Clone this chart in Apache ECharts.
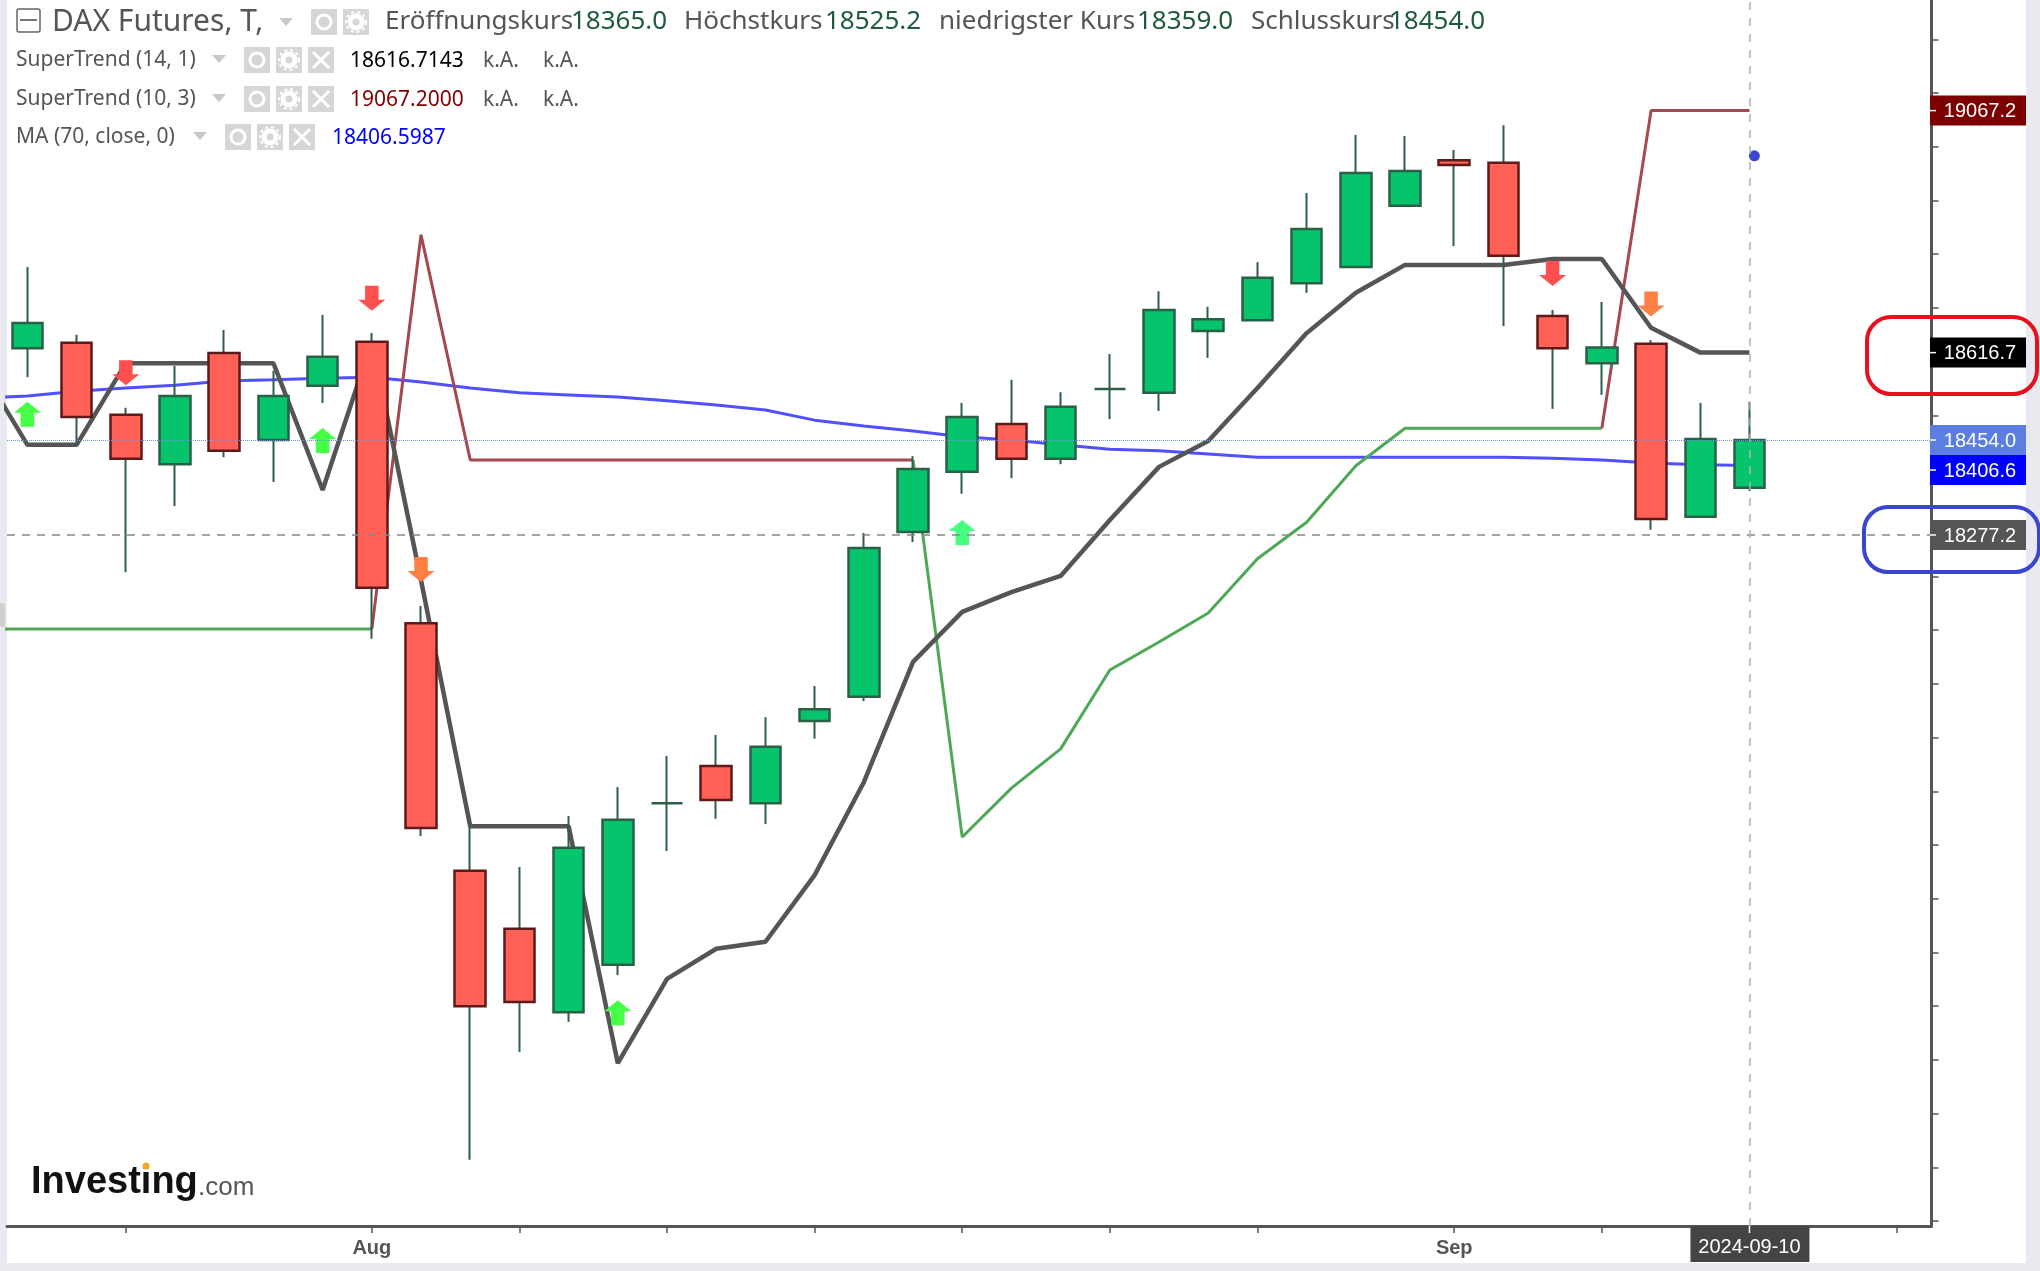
<!DOCTYPE html>
<html>
<head>
<meta charset="utf-8">
<style>html,body{margin:0;padding:0;background:#e9e9f0}#chart{width:2040px;height:1271px}</style>
<script src="https://cdn.jsdelivr.net/npm/echarts@6/dist/echarts.min.js"></script>
</head>
<body>
<div id="chart"></div>
<script>
// trading days, Jul 23 - Sep 10 2024
var dates = ['2024-07-23','2024-07-24','2024-07-25','2024-07-26','2024-07-29','2024-07-30','2024-07-31',
  '2024-08-01','2024-08-02','2024-08-05','2024-08-06','2024-08-07','2024-08-08','2024-08-09',
  '2024-08-12','2024-08-13','2024-08-14','2024-08-15','2024-08-16','2024-08-19','2024-08-20',
  '2024-08-21','2024-08-22','2024-08-23','2024-08-26','2024-08-27','2024-08-28','2024-08-29',
  '2024-08-30','2024-09-02','2024-09-03','2024-09-04','2024-09-05','2024-09-06','2024-09-09','2024-09-10'];
var open  = [18625,18635,18501,18409,18616,18454,18555,18637,18113,17652,17544,17389,17477,17778,17847,17778,17931,17976,18283,18395,18484,18419,18549,18542,18657,18677,18746,18776,18890,18975,18970,18685,18597,18633,18311,18365];
var close = [18672,18497,18419,18536,18434,18536,18609,18179,17732,17400,17408,17695,17747,17778,17784,17883,17953,18253,18400,18497,18419,18516,18549,18696,18679,18756,18847,18951,18955,18966,18797,18625,18626,18307,18456,18454];
var low   = [18571,18445,18208,18331,18422,18376,18523,18084,17717,17114,17315,17371,17458,17689,17749,17739,17898,17968,18264,18354,18383,18409,18493,18508,18607,18677,18728,18776,18890,18815,18666,18512,18538,18287,18311,18359];
var high  = [18776,18650,18514,18592,18659,18583,18687,18653,18145,17735,17659,17754,17808,17866,17905,17938,17996,18281,18424,18523,18566,18543,18614,18731,18702,18785,18914,19022,19020,18994,19040,18696,18711,18640,18523,18525.2];

// indicator arrays start one bar before the first candle (index -1)
var superTrend141 = [18597,18445,18445,18597,18597,18597,18597,18361,18637,18193,17735,17735,17735,17294,17451,17507,17520,17644,17817,18041,18134,18171,18201,18305,18404,18452,18551,18653,18728,18780,18780,18780,18791,18791,18663,18616.7,18616.7];
var superTrend103Up = [18102,18102,18102,18102,18102,18102,18102,18102,18102,null,null,null,null,null,null,null,null,null,null,18417,17715,17806,17879,18026,18078,18132,18233,18301,18406,18476,18476,18476,18476,18476,null,null,null];
var superTrend103Down = [null,null,null,null,null,null,null,null,18102,18836,18417,18417,18417,18417,18417,18417,18417,18417,18417,18417,null,null,null,null,null,null,null,null,null,null,null,null,null,18476,19067.2,19067.2,19067.2];
var ma70 = [18532,18536,18545,18551,18556,18564,18566,18569,18571,18562,18551,18542,18538,18534,18527,18519,18510,18491,18480,18471,18460,18454,18445,18437,18434,18428,18422,18422,18422,18422,18422,18422,18420,18417,18411,18408,18406.6];

var greenArrows = [[0,18502],[6,18453],[12,17388]];
var mintArrows = [[19,18282]];
var redArrows = [[2,18579],[7,18718],[31,18764]];
var orangeArrows = [[8,18213],[33,18707]];
var forecastDot = [[35.1,18983]];

var priceTags = [19067.2,18616.7,18454.0,18406.6,18277.2];
var priceTagColors = ['#7d0000','#000000','#5a7fe0','#0000ff','#555555'];
var lastClose = 18454.0;
var lastLevel = 18277.2;
var lastBar = 35;

var xTickValues = [2,7,10,13,16,19,22,25,29,32,35,38];
var xLabelValues = [7,29];
var xLabelNames = {7:'Aug',29:'Sep'};
var yTickValues = [];
for (var t = 17000; t <= 19200; t += 100) yTickValues.push(t);

function shift(arr) {
  return arr.map(function (v, k) { return [k - 1, v]; });
}
var candleFull = dates.map(function (d, i) { return [i, open[i], close[i], low[i], high[i]]; });
var candleBody = dates.map(function (d, i) {
  return [i, open[i], close[i], Math.min(open[i], close[i]), Math.max(open[i], close[i])];
});

var ICON = '#d6d6d6';
var GREY = '#555555';
var DARKGREEN = '#1f5a3c';
var gfx = [];

function txt(s, x, y, font, color, z) {
  gfx.push({type:'text', z:z || 50, silent:true, style:{text:s, x:x, y:y, font:font, fill:color, textVerticalAlign:'middle'}});
}
function caret(x, y) {
  gfx.push({type:'polygon', z:50, silent:true, shape:{points:[[x-7,y-4],[x+7,y-4],[x,y+4]]}, style:{fill:'#c8c8c8'}});
}
function iconBox(x, y, w, h, kind) {
  gfx.push({type:'rect', z:50, silent:true, shape:{x:x,y:y,width:w,height:h}, style:{fill:ICON}});
  var cx = x + w / 2, cy = y + h / 2;
  if (kind === 'x') {
    gfx.push({type:'line', z:51, silent:true, shape:{x1:x+5,y1:y+5,x2:x+w-5,y2:y+h-5}, style:{stroke:'#fff',lineWidth:3}});
    gfx.push({type:'line', z:51, silent:true, shape:{x1:x+w-5,y1:y+5,x2:x+5,y2:y+h-5}, style:{stroke:'#fff',lineWidth:3}});
  } else if (kind === 'eye') {
    gfx.push({type:'circle', z:51, silent:true, shape:{cx:cx,cy:cy,r:7}, style:{fill:'none',stroke:'#fff',lineWidth:3}});
  } else {
    gfx.push({type:'circle', z:51, silent:true, shape:{cx:cx,cy:cy,r:6}, style:{fill:'none',stroke:'#fff',lineWidth:5}});
    gfx.push({type:'circle', z:51, silent:true, shape:{cx:cx,cy:cy,r:10}, style:{fill:'none',stroke:'#fff',lineWidth:2,lineDash:[3,3]}});
  }
}

// frame
gfx.push({type:'rect', z:-1, silent:true, shape:{x:7,y:0,width:2019,height:1263}, style:{fill:'#fff'}});
gfx.push({type:'rect', z:-1, silent:true, shape:{x:0,y:603,width:5,height:24,r:2}, style:{fill:'#cfcfcf'}});

// header row
var HEAD = '26px "Noto Sans"';
gfx.push({type:'rect', z:50, silent:true, shape:{x:17,y:9,width:23,height:23,r:2}, style:{fill:'#fff',stroke:'#666',lineWidth:1.5}});
gfx.push({type:'line', z:50, silent:true, shape:{x1:20,y1:20,x2:37,y2:20}, style:{stroke:'#777',lineWidth:2}});
txt('DAX Futures, T,', 52, 22, '30px "Noto Sans"', GREY);
caret(286, 22);
iconBox(311, 9, 26, 26, 'eye');
iconBox(343, 9, 26, 26, 'gear');
txt('Eröffnungskurs', 385, 22, HEAD, GREY);
txt('18365.0', 571, 22, HEAD, DARKGREEN);
txt('Höchstkurs', 684, 22, HEAD, GREY);
txt('18525.2', 825, 22, HEAD, DARKGREEN);
txt('niedrigster Kurs', 939, 22, HEAD, GREY);
txt('18359.0', 1137, 22, HEAD, DARKGREEN);
txt('Schlusskurs', 1251, 22, HEAD, GREY);
txt('18454.0', 1389, 22, HEAD, DARKGREEN);

// indicator rows
var ROW = '21px "Noto Sans"';
txt('SuperTrend (14, 1)', 16, 60, ROW, GREY);
caret(219, 59);
iconBox(244, 47, 26, 26, 'eye'); iconBox(276, 47, 26, 26, 'gear'); iconBox(308, 47, 26, 26, 'x');
txt('18616.7143', 350, 61, ROW, '#000');
txt('k.A.', 483, 61, ROW, GREY);
txt('k.A.', 543, 61, ROW, GREY);

txt('SuperTrend (10, 3)', 16, 99, ROW, GREY);
caret(219, 98);
iconBox(244, 86, 26, 26, 'eye'); iconBox(276, 86, 26, 26, 'gear'); iconBox(308, 86, 26, 26, 'x');
txt('19067.2000', 350, 100, ROW, '#800000');
txt('k.A.', 483, 100, ROW, GREY);
txt('k.A.', 543, 100, ROW, GREY);

txt('MA (70, close, 0)', 16, 137, ROW, GREY);
caret(200, 136);
iconBox(225, 124, 26, 26, 'eye'); iconBox(257, 124, 26, 26, 'gear'); iconBox(289, 124, 26, 26, 'x');
txt('18406.5987', 332, 138, ROW, '#0000ff');

// logo
txt('Investing', 31, 1183, 'bold 38px "Liberation Sans"', '#111');
txt('.com', 198, 1188, '26px "Liberation Sans"', '#555');
gfx.push({type:'circle', z:51, silent:true, shape:{cx:146,cy:1166,r:3.5}, style:{fill:'#f7a51e'}});

// hand drawn annotation boxes
gfx.push({type:'rect', z:60, silent:true, shape:{x:1867,y:317,width:170,height:77,r:24}, style:{fill:'none',stroke:'#e8101c',lineWidth:4}});
gfx.push({type:'rect', z:60, silent:true, shape:{x:1864,y:507,width:175,height:65,r:24}, style:{fill:'none',stroke:'#3a45d0',lineWidth:4}});

var UP_ARROW = 'path://M10 0 L20 11 L15 11 L15 25 L5 25 L5 11 L0 11 Z';
var DOWN_ARROW = 'path://M5 0 L15 0 L15 14 L20 14 L10 25 L0 14 L5 14 Z';

function arrowSeries(name, data, path, color) {
  return {name:name, type:'scatter', z:2, silent:true, data:data, symbol:path, symbolSize:[27,25], itemStyle:{color:color, opacity:1}};
}
function lineSeries(name, data, color, width, extra) {
  var s = {name:name, type:'line', z:1, silent:true, data:shift(data), symbol:'none', connectNulls:false, lineStyle:{color:color, width:width}};
  if (extra) s.markLine = extra;
  return s;
}

var tagBottom = -Infinity;
var option = {
  animation: false,
  backgroundColor: '#e9e9f0',
  graphic: {elements: gfx},
  grid: {left:7, top:0, width:1924.5, height:1226, containLabel:false},
  xAxis: {
    type:'value', min:-0.415, max:38.70, splitLine:{show:false},
    axisLine:{onZero:false, lineStyle:{color:GREY, width:3}},
    axisTick:{length:7, inside:false, customValues:xTickValues, lineStyle:{color:GREY, width:1.5}},
    axisLabel:{customValues:xLabelValues, margin:12, color:GREY, fontSize:20, fontWeight:'bold', fontFamily:'"Liberation Sans"',
      formatter:function (v) { return xLabelNames[v] || ''; }}
  },
  yAxis: {
    type:'value', position:'right', min:16990.9, max:19273.1, scale:true, splitLine:{show:false},
    axisLine:{show:true, onZero:false, lineStyle:{color:GREY, width:3}},
    axisTick:{show:true, length:7, inside:false, customValues:yTickValues, lineStyle:{color:GREY, width:1.5}},
    axisLabel:{show:false}
  },
  series: [
    lineSeries('MA (70, close, 0)', ma70, '#5050ff', 3, {
      silent:true, symbol:'none', label:{show:false}, animation:false,
      data:[
        {yAxis:lastClose, lineStyle:{color:'#6f8fe8', width:1, type:'dotted'}},
        {yAxis:lastLevel, lineStyle:{color:'#888888', width:1.5, type:[8,7]}},
        {xAxis:lastBar, lineStyle:{color:'#b0b0b0', width:1.5, type:[8,8]}}
      ]
    }),
    lineSeries('SuperTrend (10, 3)', superTrend103Up, '#4fa856', 3),
    lineSeries('SuperTrend (10, 3) down', superTrend103Down, '#a5484f', 3),
    lineSeries('SuperTrend (14, 1)', superTrend141, GREY, 4.5),
    arrowSeries('buy', greenArrows, UP_ARROW, '#44ff44'),
    arrowSeries('buy2', mintArrows, UP_ARROW, '#44ff80'),
    arrowSeries('sell', redArrows, DOWN_ARROW, '#ff4f4f'),
    arrowSeries('sell2', orangeArrows, DOWN_ARROW, '#ff7f45'),
    {name:'dot', type:'scatter', z:2, silent:true, data:forecastDot, symbolSize:11, itemStyle:{color:'#3a45d0', opacity:1}},
    // wicks: always dark green, the body series sits on top with its own border
    {name:'wicks', type:'candlestick', z:3, silent:true, data:candleFull, encode:{x:0,y:[1,2,3,4]}, barWidth:1,
      itemStyle:{color:'#2a6045', color0:'#2a6045', borderColor:'#2a6045', borderColor0:'#2a6045', borderColorDoji:'#2a6045', borderWidth:2}},
    {name:'bodies', type:'candlestick', z:4, silent:true, data:candleBody, encode:{x:0,y:[1,2,3,4]}, barWidth:31,
      itemStyle:{color:'#05c46c', color0:'#ff6157', borderColor:'#2a6045', borderColor0:'#5e1a1a', borderColorDoji:'#2a6045', borderWidth:2.5}},
    // price tags on the right, pushed down when they would overlap
    {name:'tags', type:'custom', z:20, silent:true, clip:false, data:priceTags.map(function (v, i) { return [lastBar, v, i]; }), encode:{x:0,y:1},
      renderItem:function (params, api) {
        if (params.dataIndex === 0) tagBottom = -Infinity;
        var cs = params.coordSys;
        var left = cs.x + cs.width - 1.5;
        var y = api.coord([lastBar, api.value(1)])[1];
        var cy = Math.max(y, tagBottom + 15);
        tagBottom = cy + 15;
        return {type:'group', children:[
          {type:'rect', shape:{x:left, y:cy-15, width:96, height:30}, style:{fill:priceTagColors[api.value(2)]}},
          {type:'line', shape:{x1:left, y1:cy, x2:left+6, y2:cy}, style:{stroke:'#fff', lineWidth:1.5}},
          {type:'text', style:{text:api.value(1).toFixed(1), x:left+50, y:cy+1, fill:'#fff', font:'20px "Liberation Sans"', textAlign:'center', textVerticalAlign:'middle'}}
        ]};
      }},
    // date tag under the last candle
    {name:'dateTag', type:'custom', z:20, silent:true, clip:false, data:[[lastBar, 17000]], encode:{x:0,y:1},
      renderItem:function (params, api) {
        var cs = params.coordSys;
        var x = api.coord([lastBar, 17000])[0];
        var top = cs.y + cs.height;
        return {type:'group', children:[
          {type:'rect', shape:{x:x-59, y:top, width:119, height:36}, style:{fill:'#444444'}},
          {type:'line', shape:{x1:x, y1:top, x2:x, y2:top+7}, style:{stroke:'#fff', lineWidth:1.5}},
          {type:'text', style:{text:dates[lastBar], x:x, y:top+21, fill:'#fff', font:'20px "Liberation Sans"', textAlign:'center', textVerticalAlign:'middle'}}
        ]};
      }}
  ]
};
var myChart = echarts.init(document.getElementById('chart'));
myChart.setOption(option);
</script>
</body>
</html>
